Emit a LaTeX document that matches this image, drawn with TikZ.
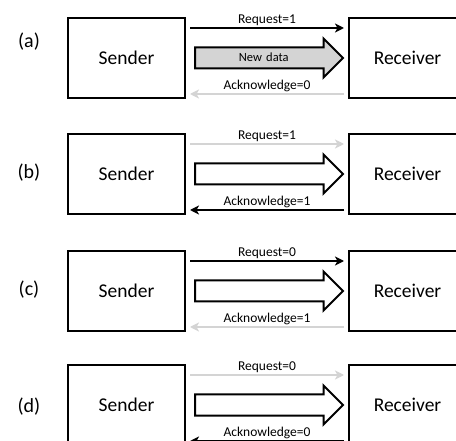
\documentclass[tikz,border=0pt]{standalone}
\usepackage{fontspec}
\setmainfont{Carlito}
\usetikzlibrary{shapes.arrows,arrows.meta}
\definecolor{lightg}{RGB}{212,212,212}
\tikzset{
  box/.style={draw=black, line width=2pt, minimum width=117pt, minimum height=80pt, inner sep=0pt, anchor=north west, font=\fontsize{19.5}{22}\selectfont},
  sig/.style={line width=2.2pt, -{Stealth[length=9pt,width=9pt,inset=2.5pt]}, shorten >=4pt, shorten <=4pt},
  on/.style={sig, draw=black},
  off/.style={sig, draw=lightg},
  lab/.style={font=\fontsize{13.5}{15}\selectfont, inner sep=1pt},
  bigarrow/.style={single arrow, draw=black, line width=2pt, minimum height=148pt, minimum width=37pt, single arrow head extend=9pt, inner sep=0pt, text height=13.5pt, text depth=5.5pt, text width=100pt, align=center, anchor=tail, font=\fontsize{12.5}{14}\selectfont},
  tag/.style={font=\fontsize{20}{22}\selectfont}
}
\begin{document}
\begin{tikzpicture}[x=1pt,y=-1pt]
\clip (0,0) rectangle (456,441);
\fill[white] (0,0) rectangle (456,441);
% panel a
\node[box] (sa) at (67,17) {Sender};
\node[box] (ra) at (348,17) {Receiver};
\node[tag] (ta) at (29,42) {(a)};
\draw[on] ([yshift=-11pt]sa.north east) -- node[lab, above] (rqa) {Request=1} ([yshift=-11pt]ra.north west);
\node[bigarrow, fill=lightg] (da) at ([xshift=8pt]sa.east) {New data};
\draw[off] ([yshift=-77pt]ra.north west) -- node[lab, above] (aka) {Acknowledge=0} ([yshift=-77pt]sa.north east);
% panel b
\node[box] (sb) at (67,133) {Sender};
\node[box] (rb) at (348,133) {Receiver};
\node[tag] (tb) at (29,173) {(b)};
\draw[off] ([yshift=-11pt]sb.north east) -- node[lab, above] (rqb) {Request=1} ([yshift=-11pt]rb.north west);
\node[bigarrow, fill=white] (db) at ([xshift=8pt]sb.east) {};
\draw[on] ([yshift=-77pt]rb.north west) -- node[lab, above] (akb) {Acknowledge=1} ([yshift=-77pt]sb.north east);
% panel c
\node[box] (sc) at (67,250) {Sender};
\node[box] (rc) at (348,250) {Receiver};
\node[tag] (tc) at (29,290) {(c)};
\draw[on] ([yshift=-11pt]sc.north east) -- node[lab, above] (rqc) {Request=0} ([yshift=-11pt]rc.north west);
\node[bigarrow, fill=white] (dc) at ([xshift=8pt]sc.east) {};
\draw[off] ([yshift=-77pt]rc.north west) -- node[lab, above] (akc) {Acknowledge=1} ([yshift=-77pt]sc.north east);
% panel d
\node[box] (sd) at (67,364) {Sender};
\node[box] (rd) at (348,364) {Receiver};
\node[tag] (td) at (29,407) {(d)};
\draw[off] ([yshift=-11pt]sd.north east) -- node[lab, above] (rqd) {Request=0} ([yshift=-11pt]rd.north west);
\node[bigarrow, fill=white] (dd) at ([xshift=8pt]sd.east) {};
\draw[on] ([yshift=-77pt]rd.north west) -- node[lab, above] (akd) {Acknowledge=0} ([yshift=-77pt]sd.north east);
\end{tikzpicture}
\end{document}
